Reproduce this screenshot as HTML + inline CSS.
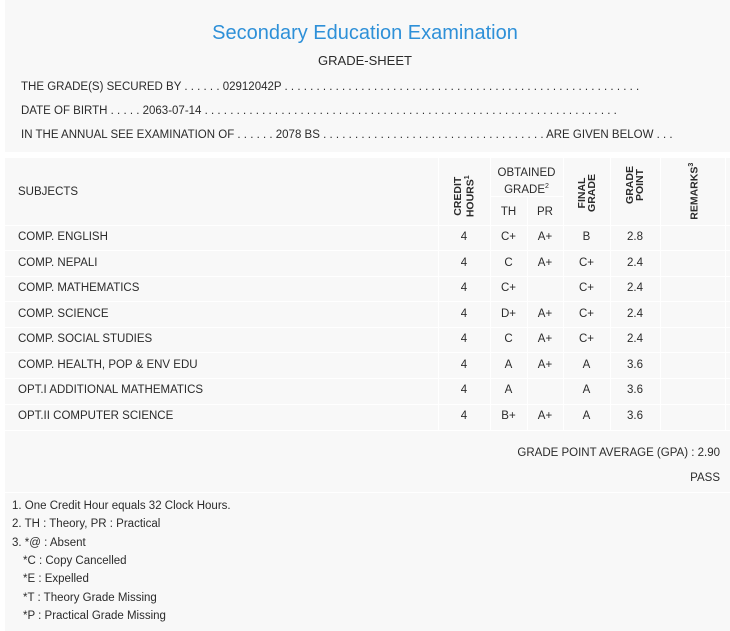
<!DOCTYPE html>
<html><head><meta charset="utf-8"><style>
html,body{margin:0;padding:0;background:#fff;}
body{width:730px;height:631px;position:relative;overflow:hidden;font-family:"Liberation Sans",sans-serif;font-size:11.5px;color:#2b2b2b;}
.bg{position:absolute;background:#f8f8f8;}
.t{position:absolute;white-space:nowrap;line-height:14px;}
.c{text-align:center;}
.vl{position:absolute;width:1px;background:#fff;}
.hl{position:absolute;height:1px;background:#fff;}
.rot{position:absolute;transform:rotate(-90deg);transform-origin:center;font-weight:bold;font-size:10.5px;line-height:10px;text-align:center;font-family:"Liberation Sans",sans-serif;}
</style></head><body>
<div class="bg" style="left:5px;top:0;width:725px;height:152px"></div>
<div class="bg" style="left:5px;top:158px;width:725px;height:473px"></div>
<div class="t c" style="left:0;width:730px;top:21px;font-size:20px;line-height:24px;color:#2e90d8;">Secondary Education Examination</div>
<div class="t c" style="left:0;width:730px;top:54px;font-size:13px;">GRADE-SHEET</div>
<div class="t" style="left:21px;top:80px;">THE GRADE(S) SECURED BY . . . . . . 02912042P . . . . . . . . . . . . . . . . . . . . . . . . . . . . . . . . . . . . . . . . . . . . . . . . . . . . . . . .</div>
<div class="t" style="left:21px;top:104px;">DATE OF BIRTH . . . . . 2063-07-14 . . . . . . . . . . . . . . . . . . . . . . . . . . . . . . . . . . . . . . . . . . . . . . . . . . . . . . . . . . . . . . . . .</div>
<div class="t" style="left:21px;top:128px;">IN THE ANNUAL SEE EXAMINATION OF . . . . . . 2078 BS . . . . . . . . . . . . . . . . . . . . . . . . . . . . . . . . . . . ARE GIVEN BELOW . . .</div>

<div class="vl" style="left:438px;top:158px;height:272px"></div>
<div class="vl" style="left:490px;top:158px;height:272px"></div>
<div class="vl" style="left:527px;top:196px;height:234px"></div>
<div class="vl" style="left:563px;top:158px;height:272px"></div>
<div class="vl" style="left:610px;top:158px;height:272px"></div>
<div class="vl" style="left:660px;top:158px;height:272px"></div>
<div class="vl" style="left:725px;top:158px;height:272px"></div>
<div class="hl" style="left:490px;width:73px;top:196px"></div>
<div class="hl" style="left:5px;width:725px;top:225px"></div>
<div class="hl" style="left:5px;width:725px;top:250px"></div>
<div class="hl" style="left:5px;width:725px;top:276px"></div>
<div class="hl" style="left:5px;width:725px;top:301px"></div>
<div class="hl" style="left:5px;width:725px;top:327px"></div>
<div class="hl" style="left:5px;width:725px;top:352px"></div>
<div class="hl" style="left:5px;width:725px;top:378px"></div>
<div class="hl" style="left:5px;width:725px;top:404px"></div>
<div class="hl" style="left:5px;width:725px;top:430px"></div>
<div class="hl" style="left:5px;width:725px;top:492px"></div>

<div class="t" style="left:18px;top:185px;">SUBJECTS</div>
<div class="rot" style="left:434px;top:185px;width:60px;">CREDIT<br>HOURS<sup style="font-size:7px">1</sup></div>
<div class="t c" style="left:490px;width:73px;top:166px;line-height:14px;">OBTAINED<br>GRADE<sup style="font-size:7px">2</sup></div>
<div class="t c" style="left:490px;width:37px;top:205px;">TH</div>
<div class="t c" style="left:527px;width:36px;top:205px;">PR</div>
<div class="rot" style="left:557px;top:183px;width:60px;">FINAL<br>GRADE</div>
<div class="rot" style="left:605px;top:175px;width:60px;">GRADE<br>POINT</div>
<div class="rot" style="left:663px;top:185px;width:60px;">REMARKS<sup style="font-size:7px">3</sup></div>

<div class="t" style="left:18px;top:230px">COMP. ENGLISH</div>
<div class="t" style="left:18px;top:256px">COMP. NEPALI</div>
<div class="t" style="left:18px;top:281px">COMP. MATHEMATICS</div>
<div class="t" style="left:18px;top:307px">COMP. SCIENCE</div>
<div class="t" style="left:18px;top:332px">COMP. SOCIAL STUDIES</div>
<div class="t" style="left:18px;top:358px">COMP. HEALTH, POP &amp; ENV EDU</div>
<div class="t" style="left:18px;top:383px">OPT.I ADDITIONAL MATHEMATICS</div>
<div class="t" style="left:18px;top:409px">OPT.II COMPUTER SCIENCE</div>

<div class="t c" style="left:438px;width:52px;top:230px">4</div><div class="t c" style="left:490px;width:37px;top:230px">C+</div><div class="t c" style="left:527px;width:36px;top:230px">A+</div><div class="t c" style="left:563px;width:47px;top:230px">B</div><div class="t c" style="left:610px;width:50px;top:230px">2.8</div>
<div class="t c" style="left:438px;width:52px;top:256px">4</div><div class="t c" style="left:490px;width:37px;top:256px">C</div><div class="t c" style="left:527px;width:36px;top:256px">A+</div><div class="t c" style="left:563px;width:47px;top:256px">C+</div><div class="t c" style="left:610px;width:50px;top:256px">2.4</div>
<div class="t c" style="left:438px;width:52px;top:281px">4</div><div class="t c" style="left:490px;width:37px;top:281px">C+</div><div class="t c" style="left:563px;width:47px;top:281px">C+</div><div class="t c" style="left:610px;width:50px;top:281px">2.4</div>
<div class="t c" style="left:438px;width:52px;top:307px">4</div><div class="t c" style="left:490px;width:37px;top:307px">D+</div><div class="t c" style="left:527px;width:36px;top:307px">A+</div><div class="t c" style="left:563px;width:47px;top:307px">C+</div><div class="t c" style="left:610px;width:50px;top:307px">2.4</div>
<div class="t c" style="left:438px;width:52px;top:332px">4</div><div class="t c" style="left:490px;width:37px;top:332px">C</div><div class="t c" style="left:527px;width:36px;top:332px">A+</div><div class="t c" style="left:563px;width:47px;top:332px">C+</div><div class="t c" style="left:610px;width:50px;top:332px">2.4</div>
<div class="t c" style="left:438px;width:52px;top:358px">4</div><div class="t c" style="left:490px;width:37px;top:358px">A</div><div class="t c" style="left:527px;width:36px;top:358px">A+</div><div class="t c" style="left:563px;width:47px;top:358px">A</div><div class="t c" style="left:610px;width:50px;top:358px">3.6</div>
<div class="t c" style="left:438px;width:52px;top:383px">4</div><div class="t c" style="left:490px;width:37px;top:383px">A</div><div class="t c" style="left:563px;width:47px;top:383px">A</div><div class="t c" style="left:610px;width:50px;top:383px">3.6</div>
<div class="t c" style="left:438px;width:52px;top:409px">4</div><div class="t c" style="left:490px;width:37px;top:409px">B+</div><div class="t c" style="left:527px;width:36px;top:409px">A+</div><div class="t c" style="left:563px;width:47px;top:409px">A</div><div class="t c" style="left:610px;width:50px;top:409px">3.6</div>

<div class="t" style="right:10px;top:446px">GRADE POINT AVERAGE (GPA) : 2.90</div>
<div class="t" style="right:10px;top:471px">PASS</div>

<div class="t" style="left:12px;top:499px">1. One Credit Hour equals 32 Clock Hours.</div>
<div class="t" style="left:12px;top:517px">2. TH : Theory, PR : Practical</div>
<div class="t" style="left:12px;top:536px">3. *@ : Absent</div>
<div class="t" style="left:23px;top:554px">*C : Copy Cancelled</div>
<div class="t" style="left:23px;top:572px">*E : Expelled</div>
<div class="t" style="left:23px;top:591px">*T : Theory Grade Missing</div>
<div class="t" style="left:23px;top:609px">*P : Practical Grade Missing</div>
</body></html>
